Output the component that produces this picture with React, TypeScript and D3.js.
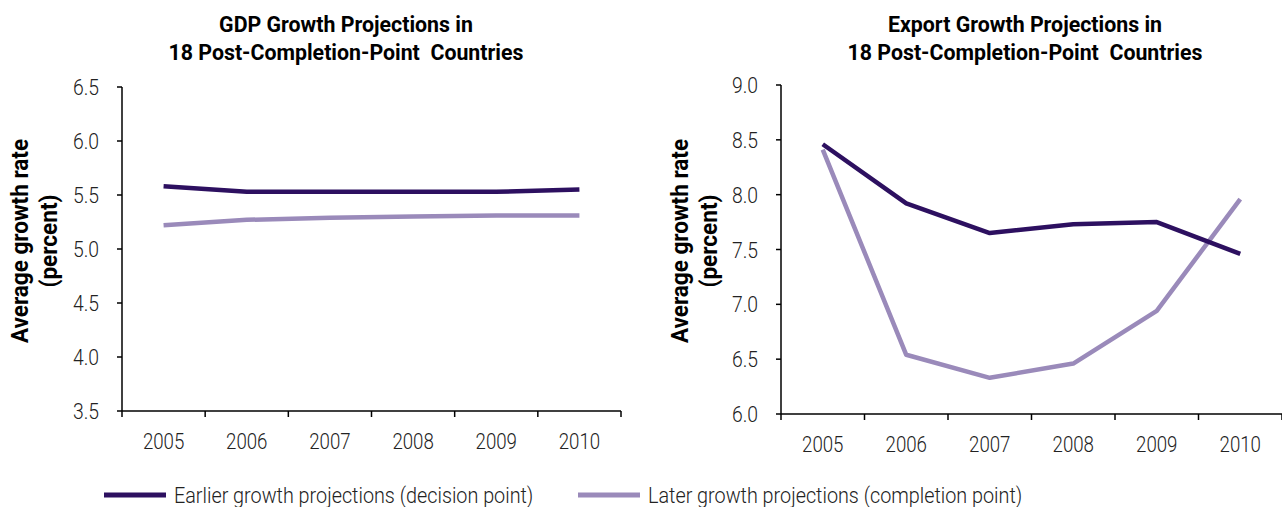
import React from "react";
import * as d3 from "d3";

const years = ["2005", "2006", "2007", "2008", "2009", "2010"];
const gdpEarlier = [5.58, 5.53, 5.53, 5.53, 5.53, 5.55];
const gdpLater = [5.22, 5.27, 5.29, 5.3, 5.31, 5.31];
const exportEarlier = [8.46, 7.92, 7.65, 7.73, 7.75, 7.46];
const exportLater = [8.41, 6.54, 6.33, 6.46, 6.94, 7.96];
const gdpTicks = [3.5, 4.0, 4.5, 5.0, 5.5, 6.0, 6.5];
const exportTicks = [6.0, 6.5, 7.0, 7.5, 8.0, 8.5, 9.0];
const seriesNames = [
  "Earlier growth projections (decision point)",
  "Later growth projections (completion point)",
];
const gdpTitle = ["GDP Growth Projections in", "18 Post-Completion-Point  Countries"];
const exportTitle = ["Export Growth Projections in", "18 Post-Completion-Point  Countries"];
const yTitle = ["Average growth rate", "(percent)"];

const DARK = "#2d1060";
const LIGHT = "#9a8aba";
const FONT = "Roboto, 'Liberation Sans', sans-serif";

type PanelProps = {
  title: string[];
  ticks: number[];
  earlier: number[];
  later: number[];
  x0: number;
  x1: number;
  y0: number;
  y1: number;
  titleX: number;
  yTitleX: number;
};

function Panel({ title, ticks, earlier, later, x0, x1, y0, y1, titleX, yTitleX }: PanelProps) {
  const x = d3.scaleBand<string>().domain(years).range([x0, x1]);
  const y = d3
    .scaleLinear()
    .domain([ticks[0], ticks[ticks.length - 1]])
    .range([y1, y0]);
  const line = d3
    .line<number>()
    .x((_, i) => (x(years[i]) as number) + x.bandwidth() / 2)
    .y((v) => y(v));
  const boundaries = years.map((yr) => x(yr) as number).concat([x1]);
  return (
    <g>
      {title.map((t, i) => (
        <text
          key={i}
          transform={`translate(${titleX},${32 + i * 28}) scale(0.97,1)`}
          textAnchor="middle"
          fontFamily={FONT}
          fontWeight={700}
          fontSize={22}
          fill="#000"
          style={{ whiteSpace: "pre" }}
        >
          {t}
        </text>
      ))}
      {yTitle.map((t, i) => (
        <text
          key={i}
          transform={`translate(${yTitleX + i * 29},${241}) rotate(-90) scale(0.98,1)`}
          textAnchor="middle"
          fontFamily={FONT}
          fontWeight={700}
          fontSize={23}
          fill="#000"
        >
          {t}
        </text>
      ))}
      {/* y axis */}
      <line x1={x0} x2={x0} y1={y(ticks[ticks.length - 1])} y2={y1} stroke="#000" strokeWidth={1.5} />
      {ticks.map((t) => (
        <g key={t}>
          <line x1={x0 - 5} x2={x0} y1={y(t)} y2={y(t)} stroke="#000" strokeWidth={1.5} />
          <text
            transform={`translate(${x0 - 23},${y(t) + 8}) scale(0.86,1)`}
            textAnchor="end"
            fontFamily={FONT}
            fontWeight={300}
            fontSize={22.5}
            fill="#222"
          >
            {t.toFixed(1)}
          </text>
        </g>
      ))}
      {/* x axis */}
      <line x1={x0} x2={x1} y1={y1} y2={y1} stroke="#000" strokeWidth={1.5} />
      {boundaries.map((b, i) => (
        <line key={i} x1={b} x2={b} y1={y1} y2={y1 + 6} stroke="#000" strokeWidth={1.5} />
      ))}
      {years.map((yr) => (
        <text
          key={yr}
          transform={`translate(${(x(yr) as number) + x.bandwidth() / 2},${y1 + 38}) scale(0.83,1)`}
          textAnchor="middle"
          fontFamily={FONT}
          fontWeight={300}
          fontSize={22.5}
          fill="#222"
        >
          {yr}
        </text>
      ))}
      <path d={line(later) || ""} fill="none" stroke={LIGHT} strokeWidth={4.5} strokeLinejoin="round" />
      <path d={line(earlier) || ""} fill="none" stroke={DARK} strokeWidth={4.5} strokeLinejoin="round" />
    </g>
  );
}

export default function App() {
  const legendItems = [
    { name: seriesNames[0], color: DARK, lx: 104, tx: 174 },
    { name: seriesNames[1], color: LIGHT, lx: 578, tx: 648 },
  ];
  return (
    <svg
      width={1282}
      height={507}
      style={{ position: "absolute", left: 0, top: 0, background: "#fff" }}
    >
      <rect width={1282} height={507} fill="#fff" />
      <Panel
        title={gdpTitle}
        ticks={gdpTicks}
        earlier={gdpEarlier}
        later={gdpLater}
        x0={122}
        x1={621}
        y0={87}
        y1={411}
        titleX={346}
        yTitleX={28}
      />
      <Panel
        title={exportTitle}
        ticks={exportTicks}
        earlier={exportEarlier}
        later={exportLater}
        x0={781}
        x1={1282}
        y0={85}
        y1={414}
        titleX={1025}
        yTitleX={688}
      />
      {legendItems.map((it) => (
        <g key={it.name}>
          <line x1={it.lx} x2={it.lx + 62} y1={495} y2={495} stroke={it.color} strokeWidth={5} />
          <text
            transform={`translate(${it.tx},${503}) scale(0.9,1)`}
            fontFamily={FONT}
            fontWeight={300}
            fontSize={22}
            fill="#222"
          >
            {it.name}
          </text>
        </g>
      ))}
    </svg>
  );
}
